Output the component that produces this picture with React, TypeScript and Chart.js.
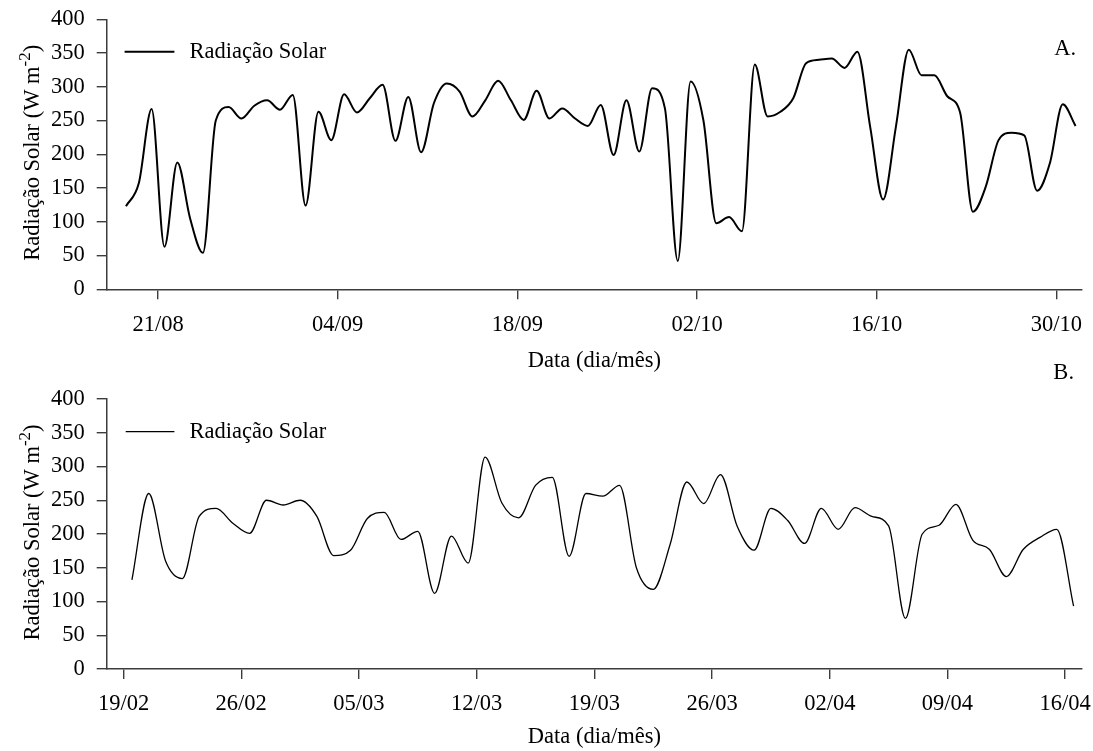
import React, { useEffect, useRef } from 'react';
import { Chart, registerables } from 'chart.js';

Chart.register(...registerables);

const FONT = "'Liberation Serif', 'Times New Roman', serif";
const FS = 22.5;
const AXIS = '#3c3c3c';
const YEAR = 2015;

// ---------- Panel A (ago–out) ----------
const startDateA = '18/08';
const radiacaoA = [
  123, 157, 267, 63, 188, 105, 54, 250, 270, 253,
  272, 280, 266, 288, 124, 263, 221, 289, 262, 283,
  303, 220, 285, 203, 276, 305, 293, 256, 280, 309,
  280, 251, 294, 253, 268, 253, 242, 273, 199, 280,
  204, 298, 268, 42, 308, 250, 98, 107, 86, 333,
  256, 263, 283, 335, 340, 342, 328, 352, 240, 133,
  241, 355, 317, 317, 286, 262, 115, 152, 221, 232,
  228, 146, 187, 274, 242,
];
const tickLabelsA = ['21/08', '04/09', '18/09', '02/10', '16/10', '30/10'];
const axisRangeA = ['17/08', '01/11'];

// ---------- Panel B (fev–abr) ----------
const startDateB = '19/02';
const radiacaoB = [
  132, 260, 160, 134, 226, 238, 216, 201, 250, 243,
  250, 226, 168, 176, 223, 232, 192, 204, 112, 197,
  157, 314, 246, 224, 272, 284, 167, 260, 256, 272,
  150, 118, 184, 277, 245, 288, 211, 176, 238, 220,
  186, 238, 207, 239, 226, 212, 75, 200, 213, 244,
  191, 177, 137, 177, 195, 207, 93,
];
const tickLabelsB = ['19/02', '26/02', '05/03', '12/03', '19/03', '26/03', '02/04', '09/04', '16/04'];
const axisRangeB = ['18/02', '17/04'];

const seriesLabel = 'Radiação Solar';
const xTitle = 'Data (dia/mês)';
const yTitleMain = 'Radiação Solar (W m';
const yTitleSup = '-2';
const yTitleEnd = ')';

function dayNum(s: string): number {
  const [d, m] = s.split('/').map(Number);
  return Date.UTC(YEAR, m - 1, d) / 86400000;
}

const decorPlugin = {
  id: 'decor',
  afterDraw(chart: any, _args: any, o: any) {
    const ctx = chart.ctx as CanvasRenderingContext2D;
    const ca = chart.chartArea;
    ctx.save();
    ctx.fillStyle = '#000';
    ctx.strokeStyle = '#000';
    // legend
    ctx.lineWidth = o.lineWidth;
    ctx.beginPath();
    ctx.moveTo(o.legX0, o.legY);
    ctx.lineTo(o.legX1, o.legY);
    ctx.stroke();
    ctx.font = `${FS}px ${FONT}`;
    ctx.textBaseline = 'middle';
    ctx.textAlign = 'left';
    ctx.fillText(seriesLabel, o.legTextX, o.legY);
    // panel letter
    ctx.textAlign = 'right';
    ctx.fillText(o.panel, o.panelX, o.panelY);
    // x title
    ctx.textAlign = 'center';
    ctx.fillText(xTitle, (ca.left + ca.right) / 2, o.xTitleY);
    // y title (rotated, with superscript)
    const supFS = FS * 0.75;
    ctx.font = `${FS}px ${FONT}`;
    const w1 = ctx.measureText(yTitleMain).width;
    const w3 = ctx.measureText(yTitleEnd).width;
    ctx.font = `${supFS}px ${FONT}`;
    const w2 = ctx.measureText(yTitleSup).width;
    const total = w1 + w2 + w3;
    ctx.translate(o.yTitleX, (ca.top + ca.bottom) / 2 + o.yTitleDy);
    ctx.rotate(-Math.PI / 2);
    ctx.textAlign = 'left';
    ctx.textBaseline = 'alphabetic';
    let x = -total / 2;
    ctx.font = `${FS}px ${FONT}`;
    ctx.fillText(yTitleMain, x, 0);
    x += w1;
    ctx.font = `${supFS}px ${FONT}`;
    ctx.fillText(yTitleSup, x, -FS * 0.42);
    x += w2;
    ctx.font = `${FS}px ${FONT}`;
    ctx.fillText(yTitleEnd, x, 0);
    ctx.restore();
  },
};

const X_H = 60;

function makeConfig(p: any) {
  const start = dayNum(p.start);
  const data = p.values.map((v: number, i: number) => ({ x: start + i + 0.5, y: v }));
  const tickVals = p.tickLabels.map(dayNum);
  const gridOpts = { drawOnChartArea: false, drawTicks: true, tickLength: 10, color: AXIS, lineWidth: 1.4 };
  const borderOpts = { display: true, color: AXIS, width: 1.5 };
  const tickFont = { family: FONT, size: FS };
  return {
    type: 'line',
    data: {
      datasets: [
        {
          label: seriesLabel,
          data,
          borderColor: '#000',
          borderWidth: p.lineWidth,
          pointRadius: 0,
          cubicInterpolationMode: 'monotone',
          tension: 0.4,
          fill: false,
        },
      ],
    },
    options: {
      animation: false,
      responsive: false,
      layout: {
        padding: {
          top: p.area.top,
          bottom: p.canvasH - p.area.bottom - X_H,
          left: 0,
          right: 1093 - p.area.right,
        },
      },
      plugins: {
        legend: { display: false },
        tooltip: { enabled: false },
        decor: p.decor,
      },
      scales: {
        x: {
          type: 'linear',
          min: dayNum(p.range[0]),
          max: dayNum(p.range[1]),
          afterBuildTicks: (s: any) => {
            s.ticks = tickVals.map((v: number) => ({ value: v }));
          },
          afterFit: (s: any) => {
            s.height = X_H;
            s.paddingLeft = 0;
            s.paddingRight = 0;
          },
          ticks: {
            autoSkip: false,
            maxRotation: 0,
            padding: 12,
            color: '#000',
            font: tickFont,
            callback: (_v: any, i: number) => p.tickLabels[i],
          },
          grid: gridOpts,
          border: borderOpts,
        },
        y: {
          min: 0,
          max: 400,
          afterFit: (s: any) => {
            s.width = p.area.left;
            s.paddingTop = 0;
            s.paddingBottom = 0;
          },
          ticks: {
            stepSize: 50,
            autoSkip: false,
            padding: 12,
            color: '#000',
            font: tickFont,
          },
          grid: gridOpts,
          border: borderOpts,
        },
      },
    },
    plugins: [decorPlugin],
  };
}

const cfgA = {
  start: startDateA,
  values: radiacaoA,
  tickLabels: tickLabelsA,
  range: axisRangeA,
  lineWidth: 2,
  canvasH: 380,
  area: { left: 106.7, right: 1082, top: 19.3, bottom: 289.3 },
  decor: {
    lineWidth: 2,
    legX0: 124.6, legX1: 174.4, legY: 51.7, legTextX: 189.5,
    panel: 'A.', panelX: 1076, panelY: 49,
    xTitleY: 361,
    yTitleX: 39, yTitleDy: -1.5,
  },
};

const cfgB = {
  start: startDateB,
  values: radiacaoB,
  tickLabels: tickLabelsB,
  range: axisRangeB,
  lineWidth: 1.3,
  canvasH: 391,
  area: { left: 106.7, right: 1082, top: 39, bottom: 309 },
  decor: {
    lineWidth: 1.3,
    legX0: 125.7, legX1: 174.4, legY: 71.6, legTextX: 189.5,
    panel: 'B.', panelX: 1074, panelY: 13,
    xTitleY: 376.7,
    yTitleX: 39, yTitleDy: -1.5,
  },
};

function Panel({ cfg, top }: { cfg: any; top: number }) {
  const ref = useRef<HTMLCanvasElement>(null);
  useEffect(() => {
    const chart = new Chart(ref.current as HTMLCanvasElement, makeConfig(cfg) as any);
    return () => chart.destroy();
  }, []);
  return (
    <canvas
      ref={ref}
      width={1093}
      height={cfg.canvasH}
      style={{ position: 'absolute', left: 0, top, width: 1093, height: cfg.canvasH, display: 'block' }}
    />
  );
}

export default function App() {
  return (
    <div style={{ position: 'absolute', left: 0, top: 0, width: 1093, height: 751, background: '#fff' }}>
      <Panel cfg={cfgA} top={0} />
      <Panel cfg={cfgB} top={360} />
    </div>
  );
}
